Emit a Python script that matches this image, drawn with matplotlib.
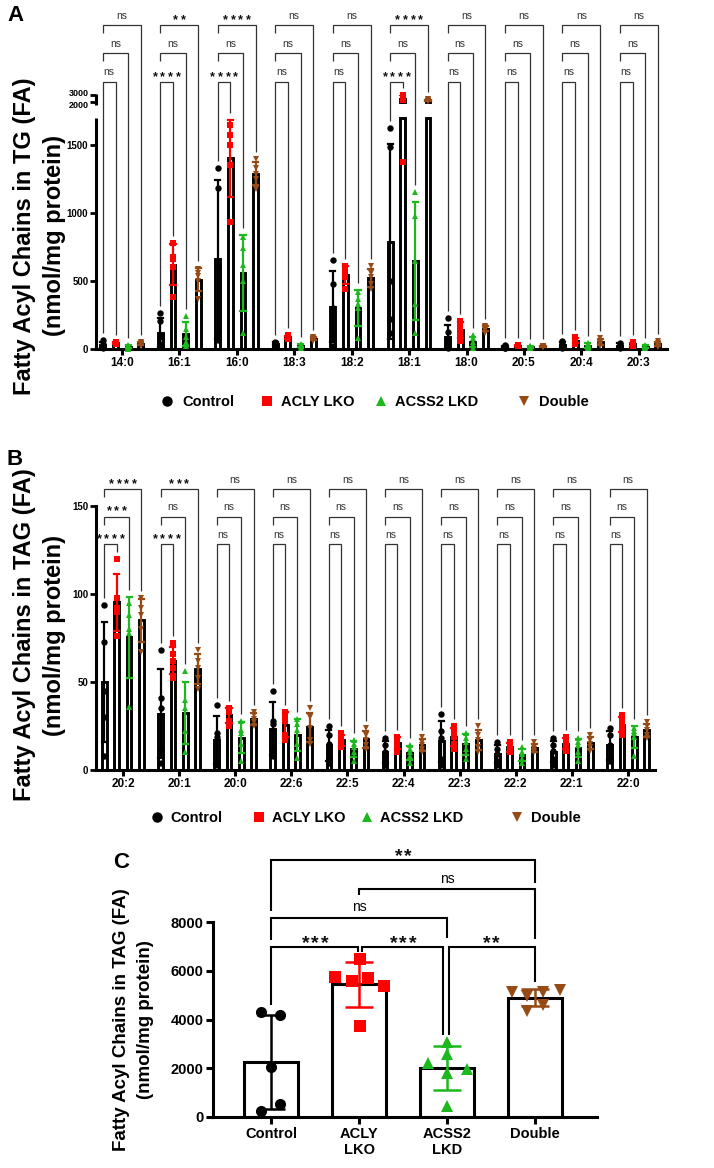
import numpy as np
import matplotlib
matplotlib.use('Agg')
import matplotlib.pyplot as plt
from matplotlib.lines import Line2D
from matplotlib.transforms import ScaledTranslation

plt.rcParams['font.family'] = ['Liberation Sans', 'DejaVu Sans']

# ---------------- data ----------------
group_names = ['Control', 'ACLY LKO', 'ACSS2 LKD', 'Double']

fa_A = ['14:0', '16:1', '16:0', '18:3', '18:2', '18:1', '18:0', '20:5', '20:4', '20:3']
ctrl_A = [[65, 40, 30, 15, 5], [265, 205, 85, 35, 15], [1330, 1185, 600, 120, 65],
          [55, 45, 40, 35, 25], [655, 480, 300, 100, 25], [1625, 1485, 500, 220, 120],
          [228, 125, 60, 30, 7], [30, 20, 15, 10, 8], [62, 45, 30, 15, 8], [45, 35, 25, 15, 5]]
acly_A = [[55, 50, 45, 40, 35], [780, 680, 660, 600, 380], [1650, 1575, 1500, 1350, 935],
          [100, 95, 85, 80, 70], [610, 580, 560, 530, 440], [2950, 2700, 2500, 2300, 1375],
          [205, 175, 150, 110, 60], [30, 28, 25, 22, 20], [85, 70, 60, 50, 35], [50, 40, 35, 30, 20]]
acss2_A = [[30, 20, 15, 8, 2], [245, 150, 90, 50, 20], [820, 740, 620, 500, 115],
           [40, 30, 25, 20, 10], [420, 370, 330, 300, 80], [1155, 980, 650, 330, 120],
           [100, 80, 50, 30, 10], [25, 20, 15, 10, 5], [45, 35, 25, 15, 8], [30, 25, 18, 12, 5]]
dbl_A = [[55, 45, 40, 35, 25], [585, 560, 540, 500, 365], [1400, 1330, 1290, 1250, 1180],
         [90, 82, 75, 70, 60], [610, 560, 530, 480, 440], [2400, 2300, 2200, 2150, 2100],
         [170, 160, 150, 140, 120], [25, 22, 20, 18, 15], [80, 60, 45, 35, 25], [60, 45, 35, 25, 15]]
stats_A = [['ns', 'ns', 'ns'], ['****', 'ns', '**'], ['****', 'ns', '****'], ['ns', 'ns', 'ns'],
           ['ns', 'ns', 'ns'], ['****', 'ns', '****'], ['ns', 'ns', 'ns'], ['ns', 'ns', 'ns'],
           ['ns', 'ns', 'ns'], ['ns', 'ns', 'ns']]
yticks_A = [0, 500, 1000, 1500, 2000, 3000]

fa_B = ['20:2', '20:1', '20:0', '22:6', '22:5', '22:4', '22:3', '22:2', '22:1', '22:0']
ctrl_B = [[94, 73, 45, 30, 8], [68, 41, 35, 12, 4], [37, 21, 19, 5, 3], [45, 28, 26, 10, 8],
          [25, 20, 15, 6, 4], [18, 14, 10, 5, 3], [32, 22, 18, 6, 3], [16, 12, 9, 5, 3],
          [18, 14, 11, 6, 3], [24, 20, 14, 7, 5]]
acly_B = [[120, 98, 92, 90, 76], [72, 66, 62, 58, 52], [35, 34, 33, 28, 25], [33, 31, 28, 20, 17],
          [21, 19, 17, 15, 13], [19, 17, 16, 14, 10], [25, 22, 19, 15, 12], [16, 14, 13, 11, 10],
          [19, 17, 15, 13, 11], [31, 28, 26, 23, 20]]
acss2_B = [[95, 88, 80, 78, 36], [56, 40, 35, 22, 10], [28, 23, 21, 15, 5], [29, 26, 23, 15, 7],
           [17, 15, 13, 10, 5], [14, 12, 10, 8, 4], [21, 18, 16, 12, 6], [13, 10, 9, 6, 4],
           [18, 16, 14, 10, 5], [24, 22, 21, 19, 8]]
dbl_B = [[98, 92, 88, 80, 67], [68, 62, 58, 52, 46], [33, 31, 29, 27, 25], [35, 30, 24, 17, 15],
         [24, 20, 17, 14, 12], [19, 16, 14, 12, 10], [25, 20, 17, 13, 10], [16, 13, 12, 11, 10],
         [20, 17, 15, 13, 11], [27, 25, 23, 20, 18]]
stats_B = [['****', '***', '****'], ['****', 'ns', '***']] + [['ns', 'ns', 'ns']] * 8
yticks_B = [0, 50, 100, 150]

labels_C = ['Control', 'ACLY\nLKO', 'ACSS2\nLKD', 'Double']
ctrl_C = [4300, 4200, 2050, 550, 250]
acly_C = [6490, 5750, 5590, 5710, 5380, 3740]
acss2_C = [3080, 2590, 2220, 1970, 1810, 450]
dbl_C = [5130, 4960, 5130, 5210, 4350, 4590]
jit_C = [[-0.11, 0.10, 0.0, 0.10, -0.11],
         [0.01, -0.27, -0.08, 0.10, 0.28, 0.01],
         [0.0, 0.0, -0.22, 0.22, 0.0, 0.0],
         [-0.27, -0.09, 0.09, 0.28, -0.09, 0.09]]
yticks_C = [0, 2000, 4000, 6000, 8000]

# ---------------- style ----------------
COLORS = ['black', '#FF0000', '#1DB81D', '#964B16']
MARKERS = ['o', 's', '^', 'v']
BR = '#333333'

W, H = 714, 1168
fig = plt.figure(figsize=(W / 100, H / 100), dpi=100)


def FX(px):
    return px / W


def FY(py):
    return 1 - py / H


def add_axes_px(left, top, right, bottom):
    return fig.add_axes([FX(left), FY(bottom), (right - left) / W, (bottom - top) / H])


def d2px(ax, x, y):
    d = ax.transData.transform((x, y))
    return d[0], H - d[1]


def line_px(xs, ys, color=BR, lw=0.9):
    fig.add_artist(Line2D([FX(x) for x in xs], [FY(y) for y in ys], transform=fig.transFigure,
                          color=color, lw=lw, solid_capstyle='butt', solid_joinstyle='miter'))


def stat_label(xc, yc, txt, star_size, pitch, ns_size, color=BR):
    if txt == 'ns':
        em = ns_size * 100 / 72
        fig.text(FX(xc), FY(yc + 0.27 * em), 'ns', fontsize=ns_size, fontweight='normal',
                 ha='center', va='baseline', color=color)
    else:
        n = len(txt)
        em = star_size * 100 / 72
        for i in range(n):
            fig.text(FX(xc + (i - (n - 1) / 2) * pitch), FY(yc + 0.58 * em), '*',
                     fontsize=star_size, fontweight='bold', ha='center', va='baseline', color='#111111')


# broken-axis mapping for panel A
LO, HI, GAP, K = 1700.0, 2000.0, 116.0, 0.0515


def fwd(v):
    v = np.asarray(v, float)
    return np.where(v <= LO, v, np.where(v >= HI, LO + GAP + (v - HI) * K,
                                         LO + (v - LO) * GAP / (HI - LO)))


def inv(u):
    u = np.asarray(u, float)
    return np.where(u <= LO, u, np.where(u >= LO + GAP, HI + (u - LO - GAP) / K,
                                         LO + (u - LO) * (HI - LO) / GAP))


OFFS = [-0.33, -0.11, 0.11, 0.33]
BW = 0.085
BLW = 2.1


def grouped_panel(ax, cats, series, broken):
    n = len(cats)
    tops = []
    for k, data in enumerate(series):
        col = COLORS[k]
        tk = []
        for g in range(n):
            vals = np.array(data[g], float)
            m = vals.mean()
            sd = vals.std(ddof=1)
            x = g + OFFS[k]
            if broken:
                ax.bar(x, min(m, LO), width=BW, facecolor='white', edgecolor='black', lw=BLW, zorder=2)
                if m > HI:
                    ax.bar(x, m - HI, bottom=HI, width=BW, facecolor='white', edgecolor='black',
                           lw=BLW, zorder=2)
            else:
                ax.bar(x, m, width=BW, facecolor='white', edgecolor='black', lw=BLW, zorder=2)
            lo_e, hi_e = max(m - sd, 0), m + sd
            segs = [(lo_e, hi_e)]
            if broken:
                segs = []
                if lo_e < LO:
                    segs.append((lo_e, min(hi_e, LO)))
                if hi_e > HI:
                    segs.append((max(lo_e, HI), hi_e))
            for a, b in segs:
                ax.plot([x, x], [a, b], color=col, lw=1.6, solid_capstyle='butt', zorder=3)
            for yy in (lo_e, hi_e):
                if not (broken and LO < yy < HI):
                    ax.plot([x - 0.045, x + 0.045], [yy, yy], color=col, lw=1.6, zorder=3)
            ax.plot(np.full(len(vals), x), vals, linestyle='none', marker=MARKERS[k], color=col,
                    ms=4.6, mew=0, zorder=4, clip_on=False)
            tk.append(max(vals.max(), hi_e))
        tops.append(tk)
    return tops


def ab_brackets(ax, n, tops, stats, yb, ylab, star_size, pitch):
    for g in range(n):
        xs = [d2px(ax, g + o, 0)[0] for o in OFFS]
        yt = [d2px(ax, g + OFFS[k], tops[k][g])[1] - 7 for k in range(4)]
        line_px([xs[0], xs[0], xs[1], xs[1]], [yt[0], yb[0], yb[0], yt[1]])
        line_px([xs[0], xs[0], xs[2], xs[2]], [yb[1] + 8, yb[1], yb[1], yt[2]])
        line_px([xs[0], xs[0], xs[3], xs[3]], [yb[2] + 8, yb[2], yb[2], yt[3]])
        for j, partner in enumerate([1, 2, 3]):
            stat_label((xs[0] + xs[partner]) / 2, ylab[j], stats[g][j], star_size, pitch, 7.5)


def style_ab(ax, cats, yticks, xlim):
    ax.set_xlim(*xlim)
    ax.set_xticks(range(len(cats)))
    ax.set_xticklabels(cats, fontsize=8.5, fontweight='bold')
    ax.set_yticks(yticks)
    ax.set_yticklabels([str(t) for t in yticks], fontsize=7, fontweight='bold')
    for s in ['top', 'right']:
        ax.spines[s].set_visible(False)
    ax.spines['bottom'].set_linewidth(2.2)
    ax.spines['left'].set_linewidth(2.2)
    ax.tick_params(axis='x', length=4, width=2.2, pad=2)
    ax.tick_params(axis='y', length=4.5, width=2.0, pad=1)


def legend_row(y, mxs, txs):
    for k in range(4):
        fig.add_artist(Line2D([FX(mxs[k])], [FY(y)], marker=MARKERS[k], color=COLORS[k], ms=7.5,
                              mew=0, linestyle='none', transform=fig.transFigure))
        em = 10.5 * 100 / 72
        fig.text(FX(txs[k]), FY(y + 0.36 * em), group_names[k], fontsize=10.5, fontweight='bold',
                 ha='left', va='baseline')


def ylabel2(x1, x2, yc, l1, l2, size):
    fig.text(FX(x1), FY(yc), l1, rotation=90, fontsize=size, fontweight='bold', ha='center', va='center')
    fig.text(FX(x2), FY(yc), l2, rotation=90, fontsize=size, fontweight='bold', ha='center', va='center')


# ---------------- Panel A ----------------
axA = add_axes_px(96, 95, 667, 349)
axA.set_yscale('function', functions=(fwd, inv))
axA.set_ylim(0, 3000)
style_ab(axA, fa_A, yticks_A, (-0.45, 9.49))
axA.spines['left'].set_visible(False)
axA.plot([-0.45, -0.45], [0, LO], color='black', lw=2.2, clip_on=False, solid_capstyle='butt', zorder=5)
axA.plot([-0.45, -0.45], [HI - 50, 3100], color='black', lw=2.2, clip_on=False, solid_capstyle='butt', zorder=5)
for lab, val in zip(axA.get_yticklabels(), yticks_A):
    if val == 3000:
        lab.set_fontsize(6.5)
        lab.set_transform(lab.get_transform() + ScaledTranslation(0, 2 / 72, fig.dpi_scale_trans))
    elif val == 2000:
        lab.set_fontsize(6.5)
        lab.set_transform(lab.get_transform() + ScaledTranslation(0, -2 / 72, fig.dpi_scale_trans))
topsA = grouped_panel(axA, fa_A, [ctrl_A, acly_A, acss2_A, dbl_A], True)
ab_brackets(axA, len(fa_A), topsA, stats_A, [82, 53, 25], [72.5, 44, 16], 9, 7.7)
legend_row(401, [167, 267, 381, 524], [182, 281, 395, 539])
ylabel2(25, 55, 236, 'Fatty Acyl Chains in TG (FA)', '(nmol/mg protein)', 17)
fig.text(FX(7), FY(21), 'A', fontsize=16, fontweight='bold', ha='left', va='baseline')

# ---------------- Panel B ----------------
axB = add_axes_px(96, 506, 655, 770)
axB.set_ylim(0, 150)
style_ab(axB, fa_B, yticks_B, (-0.48, 9.48))
topsB = grouped_panel(axB, fa_B, [ctrl_B, acly_B, acss2_B, dbl_B], False)
ab_brackets(axB, len(fa_B), topsB, stats_B, [544, 517, 489], [535, 507, 480], 9, 7.7)
legend_row(817, [157, 259, 367, 517], [170, 272, 380, 531])
ylabel2(25, 55, 635, 'Fatty Acyl Chains in TAG (FA)', '(nmol/mg protein)', 17)
fig.text(FX(7), FY(465), 'B', fontsize=16, fontweight='bold', ha='left', va='baseline')

# ---------------- Panel C ----------------
axC = add_axes_px(213, 922, 597, 1117)
axC.set_xlim(-0.66, 3.70)
axC.set_ylim(0, 8000)
dataC = [ctrl_C, acly_C, acss2_C, dbl_C]
topsC = []
for k, vals in enumerate(dataC):
    v = np.array(vals, float)
    m, sd = v.mean(), v.std(ddof=1)
    axC.bar(k, m, width=0.615, facecolor='white', edgecolor='black', lw=2.2, zorder=2)
    axC.errorbar(k, m, yerr=sd, color=COLORS[k], capsize=10, elinewidth=1.8, capthick=1.8, zorder=3)
    axC.plot(k + np.array(jit_C[k]), v, linestyle='none', marker=MARKERS[k], color=COLORS[k],
             ms=8, mew=0, zorder=4, clip_on=False)
    topsC.append(max(v.max(), m + sd))
axC.set_yticks(yticks_C)
axC.set_yticklabels([str(t) for t in yticks_C], fontsize=10.5, fontweight='bold')
axC.set_xticks(range(4))
axC.set_xticklabels(labels_C, fontsize=10.5, fontweight='bold', linespacing=1.25)
for s in ['top', 'right']:
    axC.spines[s].set_visible(False)
axC.spines['bottom'].set_linewidth(2.2)
axC.spines['left'].set_linewidth(2.2)
axC.tick_params(axis='both', length=5, width=2.2, pad=2)

cx = [d2px(axC, k, 0)[0] for k in range(4)]
ct = [d2px(axC, k, topsC[k])[1] - 7 for k in range(4)]
LWC = 1.5
y1 = 947
line_px([cx[0], cx[0], cx[1] - 1, cx[1] - 1], [ct[0], y1, y1, ct[1]], 'black', LWC)
line_px([cx[1] + 3, cx[1] + 3, cx[2] - 4, cx[2] - 4], [ct[1], y1, y1, ct[2]], 'black', LWC)
line_px([cx[2] + 2, cx[2] + 2, cx[3], cx[3]], [ct[2], y1, y1, ct[3]], 'black', LWC)
y2 = 918
line_px([cx[0], cx[0], cx[2], cx[2]], [y1 - 7, y2, y2, y1 - 9], 'black', LWC)
y3 = 889
line_px([cx[1], cx[1], cx[3], cx[3]], [y3 + 6, y3, y3, y1 - 8], 'black', LWC)
y4 = 860
line_px([cx[0], cx[0], cx[3], cx[3]], [y2 - 7, y4, y4, y3 - 6], 'black', LWC)

stat_label((cx[0] + cx[1]) / 2, y1 - 10, '***', 14, 9.5, 10, 'black')
stat_label((cx[1] + cx[2]) / 2, y1 - 10, '***', 14, 9.5, 10, 'black')
stat_label((cx[2] + cx[3]) / 2, y1 - 10, '**', 14, 9.5, 10, 'black')
stat_label((cx[0] + cx[2]) / 2, y2 - 11, 'ns', 14, 9.5, 10, 'black')
stat_label((cx[1] + cx[3]) / 2, y3 - 10, 'ns', 14, 9.5, 10, 'black')
stat_label((cx[0] + cx[3]) / 2, y4 - 10, '**', 14, 9.5, 10, 'black')

ylabel2(122, 145, 1020, 'Fatty Acyl Chains in TAG (FA)', '(nmol/mg protein)', 13.5)
fig.text(FX(113), FY(868), 'C', fontsize=16, fontweight='bold', ha='left', va='baseline')

fig.savefig('out.png', dpi=100)
